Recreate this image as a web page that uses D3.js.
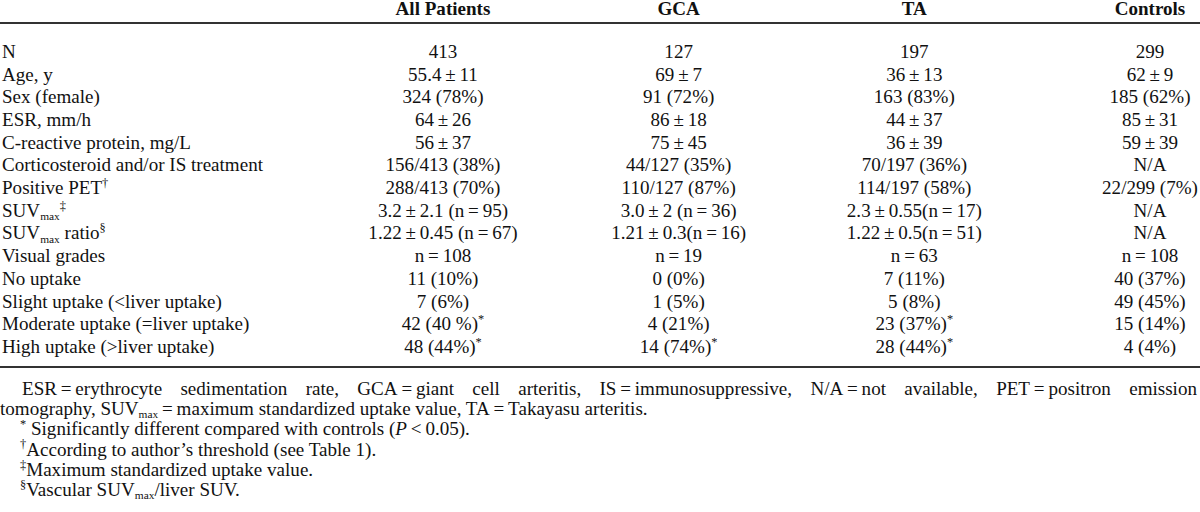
<!DOCTYPE html>
<html><head><meta charset="utf-8">
<script src="https://cdn.jsdelivr.net/npm/d3@7"></script>
<style>
html,body{margin:0;padding:0;background:#fff;}
svg{display:block;font-family:"Liberation Serif","Times New Roman",serif;}
</style>
</head><body>
<svg id="chart" width="1200" height="512"></svg>
<script>
// ---------- data ----------
const columns = ["All Patients", "GCA", "TA", "Controls"];
const rowLabels = [
  "N", "Age, y", "Sex (female)", "ESR, mm/h", "C-reactive protein, mg/L",
  "Corticosteroid and/or IS treatment", "Positive PET^{†}", "SUV_{max}^{‡}",
  "SUV_{max} ratio^{§}", "Visual grades", "No uptake",
  "Slight uptake (<liver uptake)", "Moderate uptake (=liver uptake)",
  "High uptake (>liver uptake)"
];
const T = "\u2009";
const allPatients = ["413", `55.4${T}±${T}11`, "324 (78%)", `64${T}±${T}26`, `56${T}±${T}37`,
  "156/413 (38%)", "288/413 (70%)", `3.2${T}±${T}2.1 (n${T}=${T}95)`, `1.22${T}±${T}0.45 (n${T}=${T}67)`,
  `n${T}=${T}108`, "11 (10%)", "7 (6%)", "42 (40 %)^{*}", "48 (44%)^{*}"];
const gca = ["127", `69${T}±${T}7`, "91 (72%)", `86${T}±${T}18`, `75${T}±${T}45`,
  "44/127 (35%)", "110/127 (87%)", `3.0${T}±${T}2 (n${T}=${T}36)`, `1.21${T}±${T}0.3(n${T}=${T}16)`,
  `n${T}=${T}19`, "0 (0%)", "1 (5%)", "4 (21%)", "14 (74%)^{*}"];
const ta = ["197", `36${T}±${T}13`, "163 (83%)", `44${T}±${T}37`, `36${T}±${T}39`,
  "70/197 (36%)", "114/197 (58%)", `2.3${T}±${T}0.55(n${T}=${T}17)`, `1.22${T}±${T}0.5(n${T}=${T}51)`,
  `n${T}=${T}63`, "7 (11%)", "5 (8%)", "23 (37%)^{*}", "28 (44%)^{*}"];
const controls = ["299", `62${T}±${T}9`, "185 (62%)", `85${T}±${T}31`, `59${T}±${T}39`,
  "N/A", "22/299 (7%)", "N/A", "N/A", `n${T}=${T}108`, "40 (37%)", "49 (45%)", "15 (14%)", "4 (4%)"];
const footnoteLines = [
  `ESR${T}=${T}erythrocyte sedimentation rate, GCA${T}=${T}giant cell arteritis, IS${T}=${T}immunosuppressive, N/A${T}=${T}not available, PET${T}=${T}positron emission`,
  `tomography, SUV_{max}${T}=${T}maximum standardized uptake value, TA${T}=${T}Takayasu arteritis.`,
  `^{*} Significantly different compared with controls (~{P}${T}<${T}0.05).`,
  `^{†}According to author’s threshold (see Table 1).`,
  `^{‡}Maximum standardized uptake value.`,
  `^{§}Vascular SUV_{max}/liver SUV.`
];

// ---------- layout ----------
const FS = 18, SX = 1.06;
const svg = d3.select("#chart");
const g = svg.append("g").attr("transform", `scale(${SX},1)`);
const U = v => v / SX; // screen x -> user x
const ink = "#111";

const tableCols = [allPatients, gca, ta, controls];
const x = d3.scalePoint().domain(columns).range([U(443), U(1150)]);
const y = d3.scalePoint().domain(d3.range(rowLabels.length)).range([52, 347]);
const base = FS * 0.33;

function rich(sel, str, fs) {
  const parts = str.split(/(_\{[^}]*\}|\^\{[^}]*\}|~\{[^}]*\})/).filter(p => p.length);
  let cur = 0;
  parts.forEach(p => {
    let type = "n", t = p;
    if (p.startsWith("_{")) { type = "sub"; t = p.slice(2, -1); }
    else if (p.startsWith("^{")) { type = "sup"; t = p.slice(2, -1); }
    else if (p.startsWith("~{")) { type = "i"; t = p.slice(2, -1); }
    const off = type === "sub" ? 0.18 * fs : type === "sup" ? -0.4 * fs : 0;
    const size = type === "sub" ? 0.6 * fs : type === "sup" ? 0.65 * fs : fs;
    sel.append("tspan")
      .attr("dy", off - cur)
      .attr("font-size", size)
      .attr("font-style", type === "i" ? "italic" : null)
      .text(t);
    cur = off;
  });
}

// header
g.selectAll("text.head").data(columns).join("text")
  .attr("class", "head")
  .attr("x", d => x(d)).attr("y", 15)
  .attr("text-anchor", "middle").attr("font-weight", "bold")
  .attr("font-size", FS).attr("fill", ink)
  .text(d => d);

// rules
g.append("rect").attr("x", 0).attr("width", U(1200)).attr("y", 22).attr("height", 2).attr("fill", "#333");
g.append("rect").attr("x", 0).attr("width", U(1200)).attr("y", 366).attr("height", 2).attr("fill", "#333");

// row labels
g.selectAll("text.lab").data(rowLabels).join("text")
  .attr("class", "lab")
  .attr("x", U(2)).attr("y", (d, i) => y(i) + base)
  .attr("font-size", FS).attr("fill", ink)
  .each(function (d) { rich(d3.select(this), d, FS); });

// cells
columns.forEach((c, ci) => {
  g.selectAll(`text.c${ci}`).data(tableCols[ci]).join("text")
    .attr("class", `c${ci}`)
    .attr("x", x(c)).attr("y", (d, i) => y(i) + base)
    .attr("text-anchor", "middle")
    .attr("font-size", FS).attr("fill", ink)
    .each(function (d) { rich(d3.select(this), d, FS); });
});

// footnotes
const fy = d3.scaleLinear().domain([0, 5]).range([395, 496]);
const fx = [22, 0, 20, 20, 20, 20];
footnoteLines.forEach((line, i) => {
  const t = g.append("text")
    .attr("x", U(fx[i])).attr("y", fy(i))
    .attr("font-size", FS).attr("fill", ink);
  rich(t, line, FS);
  if (i === 0) {
    const natural = t.node().getComputedTextLength();
    const nSpaces = (line.match(/ /g) || []).length;
    const target = U(1197) - U(fx[i]);
    t.attr("word-spacing", (target - natural) / nSpaces);
  }
});
</script>
</body></html>
